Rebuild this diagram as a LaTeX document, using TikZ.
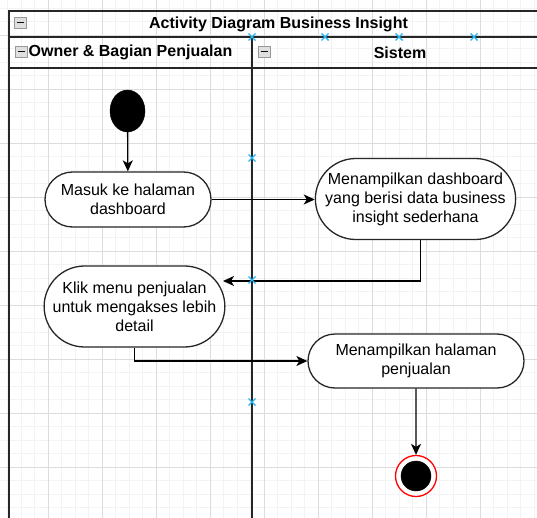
\documentclass[tikz,border=0pt]{standalone}
\usepackage{fontspec}
\setmainfont{Liberation Sans}
\usetikzlibrary{calc}
\usetikzlibrary{arrows.meta}
\usetikzlibrary{shapes.misc}
\usetikzlibrary{shapes.geometric}

\definecolor{gridmin}{RGB}{243,243,243}
\definecolor{gridmaj}{RGB}{220,220,220}
\definecolor{selblue}{RGB}{41,182,242}
\definecolor{edgegray}{RGB}{38,38,38}

\tikzset{
  gridminor/.style={gridmin, line width=.8pt},
  gridmajor/.style={gridmaj, line width=.9pt},
  lanebox/.style={edgegray, line width=1.6pt},
  lanetext/.style={font=\bfseries\fontsize{16}{19}\selectfont},
  actbox/.style={rounded rectangle, draw=edgegray, line width=1.3pt, fill=white, align=center, inner sep=0pt, font=\fontsize{16}{19}\selectfont},
  flow/.style={black, line width=1.3pt, -{Stealth[length=11pt,width=10pt,inset=3pt]}},
  foldbox/.style={draw=gray!80, fill=gray!25, line width=.8pt},
  selmark/.style={selblue, line width=1.4pt}
}

\begin{document}
\begin{tikzpicture}[x=1pt, y=-1pt]
\clip (0,0) rectangle (537,518);

% background grid
\foreach \i in {0,...,39} \draw[gridminor] ({7.5+13.5*\i},0) -- ({7.5+13.5*\i},518);
\foreach \i in {0,...,38} \draw[gridminor] (0,{8+13.5*\i}) -- (537,{8+13.5*\i});
\foreach \i in {0,...,9} \draw[gridmajor] ({-6+54*\i},0) -- ({-6+54*\i},518);
\foreach \i in {0,...,9} \draw[gridmajor] (0,{-19+54*\i}) -- (537,{-19+54*\i});

% pool and lanes
\draw[lanebox] (9,11) rectangle (548,600);
\draw[lanebox] (9,37) -- (548,37);
\draw[lanebox] (9,68) -- (548,68);
\draw[lanebox] (252,37) -- (252,600);

\node[lanetext] (title) at (278.5,24.5) {Activity Diagram Business Insight};
\node[lanetext] (laneA) at (130.5,52.5) {Owner \& Bagian Penjualan};
\node[lanetext] (laneB) at (400,52.5) {Sistem};

\foreach \x/\y in {14/17, 15/46, 258/46} {
  \draw[foldbox] (\x,\y) rectangle ++(12,11);
  \draw[gray!10!black, line width=1.4pt] (\x+2.5,\y+5.5) -- ++(7,0);
}

% activities
\node[ellipse, fill=black, draw=black, minimum width=35, minimum height=42, inner sep=0pt] (start) at (127.5,111) {};
\node[actbox, minimum width=166, minimum height=55] (masuk) at (128,199.5) {Masuk ke halaman\\dashboard};
\node[actbox, minimum width=193, minimum height=81] (tampil) at (415.5,199) {Menampilkan dashboard\\yang berisi data business\\insight sederhana};
\node[actbox, minimum width=175, minimum height=81] (klik) at (134.5,306.5) {Klik menu penjualan\\untuk mengakses lebih\\detail};
\node[actbox, minimum width=216, minimum height=54] (jual) at (416,361) {Menampilkan halaman\\penjualan};
\node[circle, draw=red, fill=white, line width=1.3pt, minimum size=41, inner sep=0pt] (finish) at (416,476) {};
\node[circle, draw=black, fill=black, minimum size=30, inner sep=0pt] (finishdot) at (finish) {};

\coordinate (intoklik) at (223,281);
\draw[flow] (start) -- (masuk);
\draw[flow] (masuk.east) -- (masuk.east -| tampil.west);
\draw[flow] ([xshift=5]tampil.south) |- (intoklik);
\draw[flow] (klik.south) |- (jual.west);
\draw[flow] (jual) -- (finish);

% selection markers
\foreach \x/\y in {252/37, 325/37, 399/37, 474/37, 252/158, 252/280, 252/402}
  \draw[selmark] (\x-3.5,\y-3.5) -- (\x+3.5,\y+3.5) (\x-3.5,\y+3.5) -- (\x+3.5,\y-3.5);

\end{tikzpicture}
\end{document}
